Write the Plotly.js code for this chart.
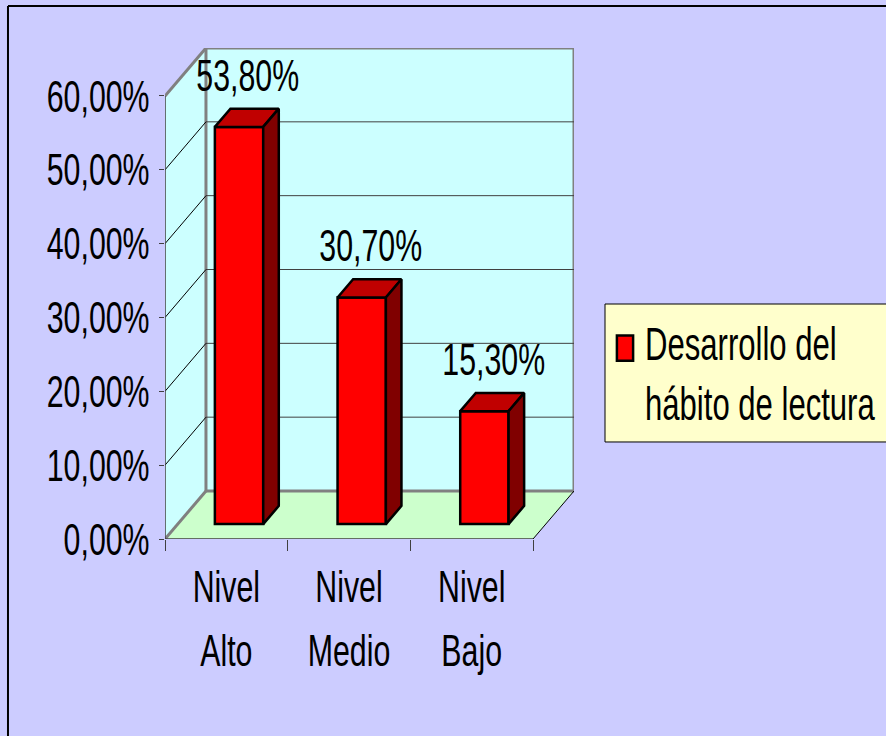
<!DOCTYPE html>
<html>
<head>
<meta charset="utf-8">
<script src="https://cdn.plot.ly/plotly-3.0.1.min.js"></script>
<style>
  html, body { margin: 0; padding: 0; background: #CCCCFF; }
  #chart { width: 886px; height: 736px; }
</style>
</head>
<body>
<div id="chart"></div>
<script>
// ---------- data ----------
const categories = ['Nivel Alto', 'Nivel Medio', 'Nivel Bajo'];
const tickLine1 = ['Nivel', 'Nivel', 'Nivel'];
const tickLine2 = ['Alto', 'Medio', 'Bajo'];
const values = [53.8, 30.7, 15.3];
const valueLabels = ['53,80%', '30,70%', '15,30%'];
const yTickVals = [0, 10, 20, 30, 40, 50, 60];
const yTickText = ['0,00%', '10,00%', '20,00%', '30,00%', '40,00%', '50,00%', '60,00%'];
const seriesName = 'Desarrollo del<br>hábito de lectura';

// ---------- 3D geometry (axis units) ----------
const DX = 0.334, DY = 6.5;      // depth vector of the box
const D0 = 0.31, D1 = 0.69;      // bar depth span (fraction of depth)
const W = 0.394;                 // bar width
const L = -0.5, R = 2.5, T = 60; // wall extents
const XR = [-0.5, 2.834];        // x range (front plane + depth)
const FONT = 'Liberation Sans Narrow, Arial Narrow, Liberation Sans, Arial, sans-serif';

const idx = categories.map((_, i) => i);

const traces = [];
idx.forEach(i => {
  const v = values[i];
  const xl = i - W / 2 + D0 * DX, xr = i + W / 2 + D0 * DX;
  const xl1 = i - W / 2 + D1 * DX, xr1 = i + W / 2 + D1 * DX;
  const yb = D0 * DY, yt = v + D0 * DY, yb1 = D1 * DY, yt1 = v + D1 * DY;
  traces.push({
    type: 'scatter', mode: 'lines', fill: 'toself', fillcolor: '#C00000',
    x: [xl, xr, xr1, xl1, xl], y: [yt, yt, yt1, yt1, yt],
    line: { color: '#000', width: 2.5 }, showlegend: false, hoverinfo: 'skip'
  });
  traces.push({
    type: 'scatter', mode: 'lines', fill: 'toself', fillcolor: '#800000',
    x: [xr, xr1, xr1, xr, xr], y: [yt, yt1, yb1, yb, yt],
    line: { color: '#000', width: 2.5 }, showlegend: false, hoverinfo: 'skip'
  });
});
traces.push({
  type: 'bar', name: seriesName, x: idx, y: values, base: D0 * DY,
  width: W, offset: -W / 2 + D0 * DX,
  marker: { color: '#FF0000', line: { color: '#000', width: 2.5 } },
  showlegend: true
});
// invisible traces to activate the label axes
traces.push({ type: 'scatter', x: idx, y: values, xaxis: 'x2', mode: 'none', showlegend: false, hoverinfo: 'skip' });
traces.push({ type: 'scatter', x: idx, y: values, xaxis: 'x3', mode: 'none', showlegend: false, hoverinfo: 'skip' });

// ---------- shapes ----------
const shapes = [];
const P = (pts) => 'M' + pts.map(p => p[0] + ',' + p[1]).join(' L') + ' Z';
shapes.push({ type: 'path', xref: 'x', yref: 'y', layer: 'below', path: P([[L, 0], [L, T], [L + DX, T + DY], [L + DX, DY]]), fillcolor: '#CCFFFF', line: { width: 0 } });
shapes.push({ type: 'path', xref: 'x', yref: 'y', layer: 'below', path: P([[L, 0], [R, 0], [R + DX, DY], [L + DX, DY]]), fillcolor: '#CCFFCC', line: { width: 0 } });
shapes.push({ type: 'path', xref: 'x', yref: 'y', layer: 'below', path: P([[L + DX, DY], [R + DX, DY], [R + DX, T + DY], [L + DX, T + DY]]), fillcolor: '#CCFFFF', line: { color: '#808080', width: 3 } });
yTickVals.filter(v => v > 0 && v < T).forEach(v => {
  shapes.push({ type: 'line', xref: 'x', yref: 'y', layer: 'below', x0: L + DX, x1: R + DX, y0: v + DY, y1: v + DY, line: { color: '#404040', width: 1 } });
  shapes.push({ type: 'line', xref: 'x', yref: 'y', layer: 'below', x0: L, x1: L + DX, y0: v, y1: v + DY, line: { color: '#000', width: 1 } });
});
shapes.push({ type: 'line', xref: 'x', yref: 'y', layer: 'below', x0: L, x1: L + DX, y0: T, y1: T + DY, line: { color: '#808080', width: 3 } });
shapes.push({ type: 'line', xref: 'x', yref: 'y', layer: 'below', x0: L, x1: L + DX, y0: 0, y1: DY, line: { color: '#808080', width: 3 } });
shapes.push({ type: 'line', xref: 'x', yref: 'y', layer: 'below', x0: R, x1: R + DX, y0: 0, y1: DY, line: { color: '#000', width: 1 } });
shapes.push({ type: 'line', xref: 'x', yref: 'y', layer: 'below', x0: L, x1: R, y0: 0, y1: 0, line: { color: '#404040', width: 1.5 } });
shapes.push({ type: 'line', xref: 'x', yref: 'y', layer: 'below', x0: L, x1: L, y0: 0, y1: T, line: { color: '#404040', width: 1.5 } });
// legend box
shapes.push({ type: 'rect', xref: 'paper', yref: 'paper', layer: 'below', x0: 1.0758, x1: 1.85, y0: 0.1976, y1: 0.4786, fillcolor: '#FFFFCC', line: { color: '#000', width: 1 } });
// outer frame (top and left edges)
shapes.push({ type: 'line', xref: 'paper', yref: 'paper', x0: -0.3839, x1: 1.9, y0: 1.0855, y1: 1.0855, line: { color: '#000', width: 2 } });
shapes.push({ type: 'line', xref: 'paper', yref: 'paper', x0: -0.3839, x1: -0.3839, y0: 1.0855, y1: -0.5, line: { color: '#000', width: 2 } });

// ---------- annotations (data labels) ----------
const annotations = idx.map(i => ({
  xref: 'x', yref: 'y', x: i + 0.18, y: values[i] + 9, text: valueLabels[i],
  showarrow: false, font: { family: FONT, size: 37, color: '#000' }, xanchor: 'center', yanchor: 'middle'
}));

const labelAxis = (ticktext, standoff) => ({
  overlaying: 'x', anchor: 'y', side: 'bottom', range: XR,
  showgrid: false, zeroline: false, showline: false, ticks: '',
  tickmode: 'array', tickvals: idx, ticktext: ticktext, ticklabelstandoff: standoff,
  tickfont: { family: FONT, size: 37, color: '#000' }, fixedrange: true
});

const layout = {
  width: 886, height: 736,
  margin: { l: 165, r: 312, t: 48, b: 197, autoexpand: false },
  paper_bgcolor: '#CCCCFF', plot_bgcolor: 'rgba(0,0,0,0)',
  font: { family: FONT, color: '#000' },
  showlegend: true,
  legend: {
    x: 1.0758, y: 0.451, xanchor: 'left', yanchor: 'top',
    bgcolor: 'rgba(0,0,0,0)', borderwidth: 0, valign: 'top',
    font: { family: FONT, size: 37, color: '#000' }
  },
  xaxis: {
    range: XR, showgrid: false, zeroline: false, showline: false,
    tickmode: 'array', tickvals: [-0.5, 0.5, 1.5, 2.5], showticklabels: false,
    ticks: 'outside', ticklen: 11, tickwidth: 1, tickcolor: '#404040', fixedrange: true
  },
  xaxis2: labelAxis(tickLine1, 22),
  xaxis3: labelAxis(tickLine2, 86),
  yaxis: {
    range: [0, 66.5], showgrid: false, zeroline: false, showline: false,
    tickmode: 'array', tickvals: yTickVals, ticktext: yTickText,
    ticks: 'outside', ticklen: 5, tickwidth: 1, tickcolor: '#404040', ticklabelstandoff: 2,
    tickfont: { family: FONT, size: 37, color: '#000' }, fixedrange: true
  },
  shapes: shapes,
  annotations: annotations
};

// condense glyphs horizontally and stretch them vertically (narrow, tall lettering)
function stretchText(gd) {
  gd.querySelectorAll('.main-svg text').forEach(t => {
    let sx = 0.82, sy = 1.21;
    if (t.closest('.legend')) { sx = 0.84; sy = 1.25; }
    const bb = t.getBBox();
    const anchor = t.getAttribute('text-anchor') || 'start';
    const ax = anchor === 'end' ? bb.x + bb.width : anchor === 'middle' ? bb.x + bb.width / 2 : bb.x;
    const cy = bb.y + bb.height / 2;
    const cur = t.getAttribute('transform') || '';
    t.setAttribute('transform', cur + ' translate(' + ax + ',' + cy + ') scale(' + sx + ',' + sy + ') translate(' + (-ax) + ',' + (-cy) + ')');
  });
  gd.querySelectorAll('.legendpoints path').forEach(p => {
    const cur = p.getAttribute('transform') || '';
    p.setAttribute('transform', cur + ' scale(1.35,2.1)');
    p.style.vectorEffect = 'non-scaling-stroke';
  });
}

Plotly.newPlot('chart', traces, layout, { staticPlot: true, displayModeBar: false })
  .then(gd => stretchText(gd));
</script>
</body>
</html>
